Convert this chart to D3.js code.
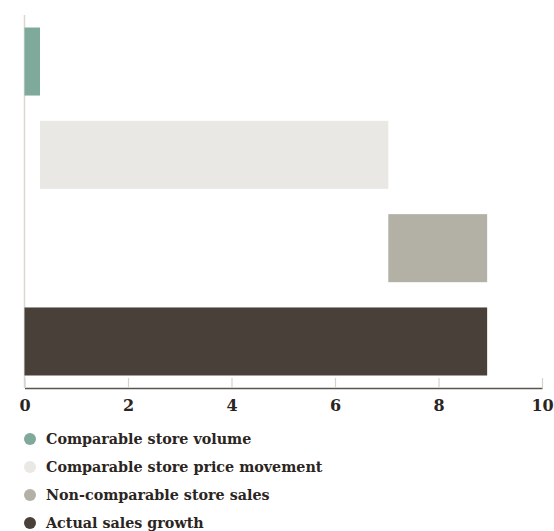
<!DOCTYPE html>
<html>
<head>
<meta charset="utf-8">
<script src="https://cdn.jsdelivr.net/npm/d3@7"></script>
<style>
  html, body { margin: 0; padding: 0; background: #fff; }
  svg { display: block; }
  text { font-family: "DejaVu Serif", serif; font-weight: bold; fill: #2b2522; }
</style>
</head>
<body>
<svg id="chart" width="554" height="531"></svg>
<script>
// Sales growth bridge: each step starts where the previous one ended.
const categories = [
  "Comparable store volume",
  "Comparable store price movement",
  "Non-comparable store sales",
  "Actual sales growth"
];
const stepValues = [0.3, 6.73, 1.91];   // incremental steps
const totalValue = 8.94;                 // final bar, drawn from zero
const colors = ["#7faa9b", "#e9e8e4", "#b3b1a5", "#4a403a"];
const xTicks = [0, 2, 4, 6, 8, 10];

// Build start/end per bar
let running = 0;
const bars = stepValues.map((v, i) => {
  const b = { name: categories[i], start: running, end: running + v, color: colors[i] };
  running += v;
  return b;
});
bars.push({ name: categories[3], start: 0, end: totalValue, color: colors[3] });

const svg = d3.select("#chart");
const plotTop = 15, plotBottom = 388;

const x = d3.scaleLinear().domain([0, 10]).range([24.5, 542]);
const y = d3.scaleBand().domain(categories).range([plotTop, plotBottom])
  .paddingInner(0.271).paddingOuter(0.134);

// vertical baseline
svg.append("line")
  .attr("x1", x(0)).attr("x2", x(0))
  .attr("y1", plotTop).attr("y2", plotBottom)
  .attr("stroke", "#d9d7d0").attr("stroke-width", 1.5);

// bars
svg.append("g").selectAll("rect").data(bars).join("rect")
  .attr("x", d => x(d.start))
  .attr("y", d => y(d.name))
  .attr("width", d => x(d.end) - x(d.start))
  .attr("height", y.bandwidth())
  .attr("fill", d => d.color);

// x axis
const axis = svg.append("g").attr("transform", `translate(0,${plotBottom})`)
  .call(d3.axisBottom(x).tickValues(xTicks).tickSize(0).tickPadding(12));
axis.select(".domain").attr("stroke", "#5a5550").attr("stroke-width", 1.5);
axis.selectAll(".tick line").remove();
axis.selectAll(".tick").append("line")
  .attr("y1", 0).attr("y2", -10)
  .attr("stroke", "#d4d2cb").attr("stroke-width", 1.2);
axis.selectAll(".tick text")
  .attr("font-size", 16)
  .attr("font-family", "DejaVu Serif, serif")
  .attr("font-weight", "bold")
  .attr("fill", "#2b2522");

// legend
const legend = svg.append("g").selectAll("g").data(categories).join("g")
  .attr("transform", (d, i) => `translate(30,${439 + i * 28})`);
legend.append("circle").attr("r", 6).attr("fill", (d, i) => colors[i]);
legend.append("text")
  .attr("x", 16).attr("dy", "0.35em")
  .attr("font-size", 14.3)
  .text(d => d);
</script>
</body>
</html>
